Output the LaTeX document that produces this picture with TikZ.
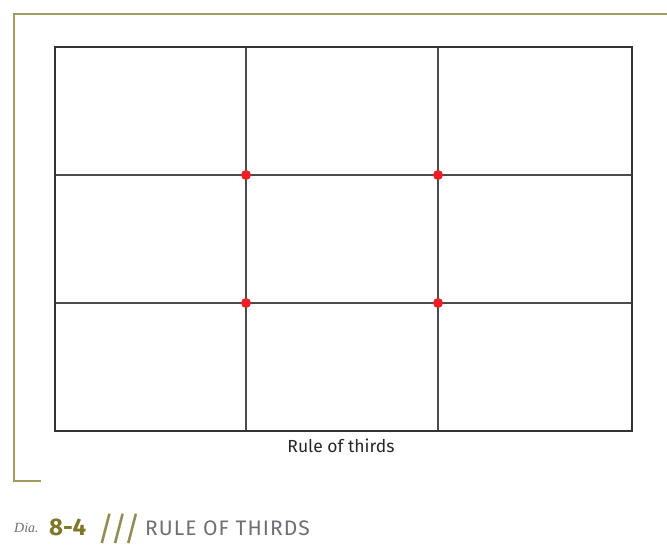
\documentclass[tikz,border=0pt]{standalone}
\usepackage{fontspec}
\setmainfont{Fira Sans}
\newfontfamily\diafont{Liberation Serif}
\newfontfamily\spacedfont[LetterSpace=5]{Fira Sans}
\definecolor{frameolive}{RGB}{160,156,92}
\definecolor{darkolive}{RGB}{128,118,40}
\definecolor{dotred}{RGB}{236,30,40}
\definecolor{captgray}{RGB}{110,110,120}
\begin{document}
\begin{tikzpicture}[x=1pt,y=-1pt,
  frameline/.style={draw=frameolive,line width=2.6pt},
  gridline/.style={draw=black!70,line width=1.5pt},
  outerbox/.style={draw=black!80,line width=1.5pt},
  dotmark/.style={circle,fill=dotred,inner sep=0pt,minimum size=10pt}]
\useasboundingbox (0,0) rectangle (667,559);
% olive frame
\coordinate (fa) at (667,14);
\coordinate (fb) at (14,14);
\coordinate (fc) at (14,481);
\coordinate (fd) at (41,481);
\draw[frameline] (fa) -- (fb) -- (fc) -- (fd);
% grid
\coordinate (tl) at (55,47);
\coordinate (br) at (632,431);
\coordinate (v1t) at (246,47);
\coordinate (v1b) at (246,431);
\coordinate (v2t) at (438,47);
\coordinate (v2b) at (438,431);
\coordinate (h1l) at (55,175);
\coordinate (h1r) at (632,175);
\coordinate (h2l) at (55,303);
\coordinate (h2r) at (632,303);
\draw[gridline] (v1t) -- (v1b);
\draw[gridline] (v2t) -- (v2b);
\draw[gridline] (h1l) -- (h1r);
\draw[gridline] (h2l) -- (h2r);
\draw[outerbox] (tl) rectangle (br);
\node[dotmark] (d1) at (246,175) {};
\node[dotmark] (d2) at (438,175) {};
\node[dotmark] (d3) at (246,303) {};
\node[dotmark] (d4) at (438,303) {};
\node[font=\fontsize{17.5}{20}\selectfont,text=black!85] (cap) at (341,446) {Rule of thirds};
% bottom caption
\node[anchor=base west,inner sep=0pt,font=\diafont\itshape\fontsize{14}{16}\selectfont,text=captgray] (dia) at (14,532) {Dia.};
\node[anchor=base west,inner sep=0pt,font=\bfseries\fontsize{24}{26}\selectfont,text=darkolive] (num) at (49,535) {8-4};
\node[anchor=base west,inner sep=0pt,font=\fontsize{33}{36}\selectfont,text=frameolive!90!black] (sl) at (97,540) {///};
\node[anchor=base west,inner sep=0pt,font=\spacedfont\fontsize{21}{24}\selectfont,text=captgray] (ttl) at (145,535) {RULE OF THIRDS};
\end{tikzpicture}
\end{document}
